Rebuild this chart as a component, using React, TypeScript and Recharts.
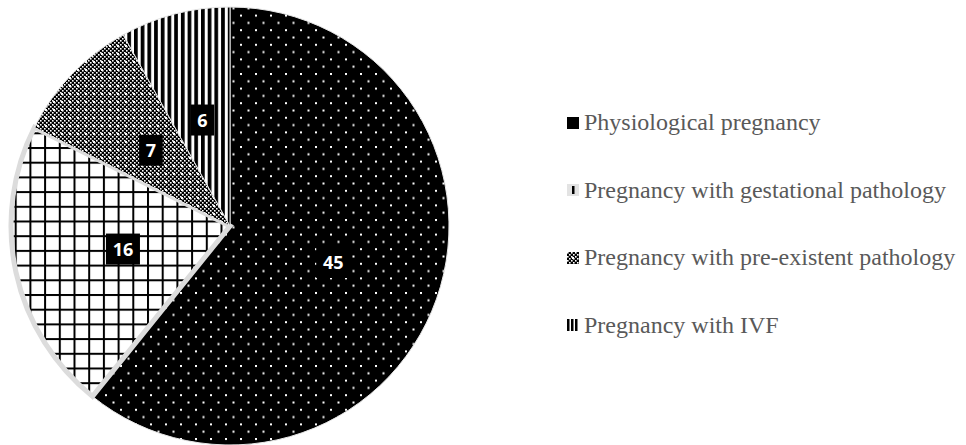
import { PieChart, Pie, Cell, Legend } from 'recharts'

// ─── Data ─────────────────────────────────────────────────────────────────────

const CATEGORIES = [
  'Physiological pregnancy',
  'Pregnancy with gestational pathology',
  'Pregnancy with pre-existent pathology',
  'Pregnancy with IVF',
]
const COUNTS = [45, 16, 7, 6]
const FILLS = ['url(#dots)', 'url(#grid)', 'url(#checker)', 'url(#stripes)']

const data = CATEGORIES.map((name, i) => ({ name, value: COUNTS[i] }))

const RADIAN = Math.PI / 180

// ─── Label: white bold number on black box ────────────────────────────────────

function SliceLabel(props: any) {
  const { cx, cy, midAngle, outerRadius, value } = props
  const r = outerRadius * 0.5
  const x = cx + r * Math.cos(-midAngle * RADIAN)
  const y = cy + r * Math.sin(-midAngle * RADIAN)
  const w = String(value).length * 10.5 + 13
  return (
    <g>
      <rect x={x - w / 2} y={y - 15.5} width={w} height={31} fill="#000" />
      <text
        x={x}
        y={y}
        fill="#fff"
        textAnchor="middle"
        dominantBaseline="central"
        style={{ fontFamily: '"Open Sans", sans-serif', fontWeight: 700, fontSize: 18 }}
      >
        {value}
      </text>
    </g>
  )
}

// ─── Legend markers ───────────────────────────────────────────────────────────

function Marker({ index }: { index: number }) {
  return (
    <svg width={12} height={12} style={{ flexShrink: 0, marginRight: 5 }}>
      {index === 0 && <rect width={12} height={12} fill="#000" />}
      {index === 1 && (
        <>
          <rect width={12} height={12} fill="#e3e3e3" />
          <rect x={5} y={2} width={2.5} height={8} fill="#000" />
        </>
      )}
      {index === 2 && <rect width={12} height={12} fill="url(#checker)" />}
      {index === 3 && (
        <>
          <rect width={12} height={12} fill="#fff" />
          <rect x={0} y={0} width={2.5} height={12} fill="#000" />
          <rect x={4} y={0} width={2.5} height={12} fill="#000" />
          <rect x={8} y={0} width={2.5} height={12} fill="#000" />
        </>
      )}
    </svg>
  )
}

// keep the data order (the default legend sorts the entries)
function LegendContent() {
  return (
    <div>
      {CATEGORIES.map((name, i) => (
        <div
          key={name}
          style={{
            height: 67.5,
            display: 'flex',
            alignItems: 'center',
            fontFamily: '"Liberation Serif", "Times New Roman", serif',
            fontSize: 24,
            color: '#595959',
            whiteSpace: 'nowrap',
          }}
        >
          <Marker index={i} />
          <span>{name}</span>
        </div>
      ))}
    </div>
  )
}

// ─── Chart ────────────────────────────────────────────────────────────────────

export default function App() {
  return (
    <div style={{ position: 'absolute', left: 0, top: 0, background: '#fff' }}>
      <PieChart width={966} height={445} margin={{ top: 0, right: 0, bottom: 0, left: 0 }}>
        <defs>
          <pattern id="dots" patternUnits="userSpaceOnUse" width={15} height={14.6}>
            <rect width={15} height={14.6} fill="#000" />
            <rect x={0} y={0} width={2} height={2} fill="#fff" />
            <rect x={7.5} y={7.3} width={2} height={2} fill="#fff" />
          </pattern>
          <pattern id="grid" patternUnits="userSpaceOnUse" width={14.7} height={14.7}>
            <rect width={14.7} height={14.7} fill="#fff" />
            <rect x={0} y={0} width={2} height={14.7} fill="#000" />
            <rect x={0} y={0} width={14.7} height={2} fill="#000" />
          </pattern>
          <pattern id="checker" patternUnits="userSpaceOnUse" width={8} height={8}>
            <rect width={8} height={8} fill="#000" />
            <rect x={0} y={0} width={1.6} height={1.6} fill="#fff" />
            <rect x={4} y={0} width={1.6} height={1.6} fill="#fff" />
            <rect x={2} y={2} width={1.6} height={1.6} fill="#fff" />
            <rect x={6} y={2} width={1.6} height={1.6} fill="#fff" />
            <rect x={0} y={4} width={1.6} height={1.6} fill="#fff" />
            <rect x={4} y={4} width={1.6} height={1.6} fill="#fff" />
            <rect x={2} y={6} width={1.6} height={1.6} fill="#fff" />
            <rect x={6} y={6} width={1.6} height={1.6} fill="#fff" />
            <rect x={5} y={5} width={2} height={2} fill="#fff" />
          </pattern>
          <pattern id="stripes" patternUnits="userSpaceOnUse" width={6.7} height={10}>
            <rect width={6.7} height={10} fill="#fff" />
            <rect x={0} y={0} width={3.7} height={10} fill="#000" />
          </pattern>
        </defs>
        <Pie
          data={data}
          dataKey="value"
          nameKey="name"
          cx={230}
          cy={226}
          outerRadius={219}
          startAngle={90}
          endAngle={-270}
          label={SliceLabel}
          labelLine={false}
          isAnimationActive={false}
        >
          {data.map((d, i) => (
            <Cell
              key={d.name}
              fill={FILLS[i]}
              stroke={i === 1 ? '#dcdcdc' : '#e6e6e6'}
              strokeWidth={i === 1 ? 5 : 1}
            />
          ))}
        </Pie>
        <Legend
          layout="vertical"
          align="right"
          verticalAlign="top"
          content={LegendContent}
          wrapperStyle={{ left: 567, top: 89, width: 399 }}
        />
      </PieChart>
    </div>
  )
}
